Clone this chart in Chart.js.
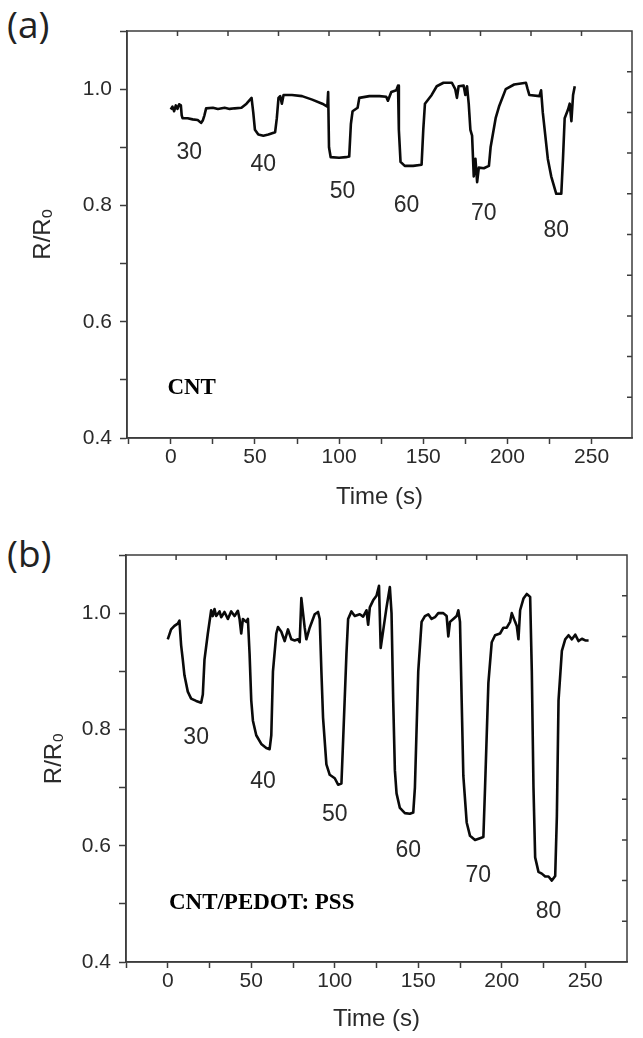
<!DOCTYPE html>
<html>
<head>
<meta charset="utf-8">
<title>R/R0 vs time</title>
<script src="https://cdn.jsdelivr.net/npm/chart.js@4.4.0/dist/chart.umd.min.js"></script>
<style>
  html, body { margin: 0; padding: 0; background: #fff; }
  #wrap { position: relative; width: 643px; height: 1038px; overflow: hidden; }
  canvas { position: absolute; left: 0; }
  .panel-tag { position: absolute; left: 7px; height: 46px; line-height: 46px;
               font: 37px "Open Sans", sans-serif; color: #222; }
</style>
</head>
<body>
<div id="wrap">
  <div class="panel-tag" style="top:-2px">(a)</div>
  <canvas id="chartA" width="643" height="520" style="top:0"></canvas>
  <div class="panel-tag" style="top:527px">(b)</div>
  <canvas id="chartB" width="643" height="518" style="top:520px"></canvas>
</div>
<script>
// ---- Panel (a): CNT ----
const timeA = [0, 1, 2, 3, 4, 5, 6, 6.5, 7, 10, 13, 16, 18, 19, 20, 21, 25, 28, 32, 35, 38, 42, 45, 48,
  49, 50, 52, 55, 58, 62, 63, 64, 65, 66, 67, 72, 78, 84, 90, 93, 93.5, 94, 95, 100, 104, 106, 107, 108,
  111, 112, 118, 124, 128, 129, 131, 134, 135, 135.5, 136.5, 139, 144, 149, 150, 151, 155, 158, 162, 167,
  169, 170, 171, 174, 175, 176, 177, 178, 179, 180, 181, 182, 183, 186, 189, 190, 193, 195, 199, 204, 211,
  212, 213, 219, 220, 221, 224, 226, 229, 232, 233, 234, 236, 237, 238, 239, 240];
const ratioA = [0.965, 0.970, 0.962, 0.972, 0.966, 0.974, 0.972, 0.955, 0.950, 0.950, 0.948, 0.947, 0.942,
  0.946, 0.955, 0.967, 0.968, 0.966, 0.968, 0.966, 0.967, 0.968, 0.975, 0.985, 0.960, 0.930, 0.922, 0.920,
  0.922, 0.926, 0.950, 0.985, 0.988, 0.975, 0.990, 0.990, 0.988, 0.982, 0.975, 0.970, 0.995, 0.900, 0.883,
  0.882, 0.883, 0.884, 0.940, 0.962, 0.968, 0.985, 0.988, 0.988, 0.987, 0.980, 0.995, 0.998, 1.006, 0.930,
  0.875, 0.868, 0.868, 0.870, 0.930, 0.975, 0.990, 1.005, 1.011, 1.011, 1.000, 0.985, 1.005, 1.006, 0.990,
  1.005, 0.975, 0.930, 0.920, 0.850, 0.880, 0.840, 0.865, 0.864, 0.868, 0.900, 0.950, 0.970, 1.000, 1.008,
  1.011, 1.000, 0.990, 0.988, 0.998, 0.960, 0.880, 0.850, 0.820, 0.820, 0.880, 0.950, 0.965, 0.975, 0.945,
  0.990, 1.005];
const noteTextA = ['30', '40', '50', '60', '70', '80'];
const noteTimeA = [11, 55, 102, 140, 186, 229];
const noteRatioA = [0.891, 0.870, 0.823, 0.799, 0.786, 0.757];

// ---- Panel (b): CNT/PEDOT: PSS ----
const timeB = [0, 2, 4, 6, 7, 8, 9, 10, 12, 14, 17, 20, 21, 22, 24, 26, 27, 28, 29, 31, 32, 34, 36, 38,
  40, 42, 43, 44, 45, 47, 48, 49, 50, 51, 53, 56, 59, 61, 62, 63, 65, 66, 68, 70, 72, 74, 76, 78, 79, 80,
  82, 83, 85, 88, 90, 91, 92, 93, 95, 97, 100, 102, 104, 105, 107, 108, 110, 112, 115, 117, 119, 120, 121,
  123, 125, 126.5, 127.5, 129, 131, 133, 134, 135, 136, 137, 139, 142, 145, 147, 148, 150, 152, 154, 156,
  158, 160, 162, 165, 167, 168, 169, 171, 173, 174, 175, 176, 177, 179, 181, 184, 187, 189, 190, 192, 194,
  196, 199, 201, 203, 205, 206, 208, 209, 210, 211, 213, 215, 217, 218, 219, 220, 222, 224, 226, 228, 230,
  232, 233, 234, 236, 238, 240, 242, 244, 246, 248, 250, 252];
const ratioB = [0.955, 0.972, 0.978, 0.982, 0.987, 0.945, 0.920, 0.893, 0.865, 0.853, 0.849, 0.846, 0.860,
  0.920, 0.965, 1.005, 0.995, 1.007, 0.995, 1.003, 0.993, 1.002, 0.990, 1.003, 0.995, 1.004, 0.990, 0.965,
  0.990, 0.985, 0.990, 0.930, 0.850, 0.815, 0.790, 0.775, 0.768, 0.766, 0.790, 0.900, 0.965, 0.976, 0.968,
  0.952, 0.972, 0.955, 0.953, 0.955, 0.950, 1.026, 0.975, 0.955, 0.975, 0.998, 1.002, 0.990, 0.900, 0.820,
  0.740, 0.722, 0.716, 0.705, 0.707, 0.780, 0.930, 0.990, 1.003, 0.995, 0.998, 0.994, 1.005, 0.980, 1.010,
  1.022, 1.030, 1.047, 0.940, 0.970, 1.010, 1.045, 1.000, 0.850, 0.730, 0.690, 0.665, 0.656, 0.655, 0.657,
  0.700, 0.900, 0.985, 0.995, 0.998, 0.990, 0.993, 1.000, 1.000, 0.995, 0.960, 0.985, 0.990, 0.995, 1.005,
  0.985, 0.850, 0.720, 0.640, 0.617, 0.610, 0.613, 0.615, 0.700, 0.880, 0.950, 0.962, 0.965, 0.975, 0.975,
  0.985, 1.000, 0.985, 0.978, 0.955, 1.005, 1.025, 1.033, 1.028, 0.900, 0.700, 0.580, 0.555, 0.552, 0.547,
  0.547, 0.540, 0.548, 0.650, 0.850, 0.935, 0.955, 0.962, 0.955, 0.963, 0.952, 0.956, 0.953, 0.953];
const noteTextB = ['30', '40', '50', '60', '70', '80'];
const noteTimeB = [17, 57, 100, 144, 186, 228];
const noteRatioB = [0.785, 0.711, 0.653, 0.592, 0.549, 0.486];

// ---- shared axis ticks ----
const xTickMarks = [-25, 0, 25, 50, 75, 100, 125, 150, 175, 200, 225, 250];
const xTickLabels = [0, 50, 100, 150, 200, 250];
const yTickLabels = [0.4, 0.6, 0.8, 1.0];

const AXIS_COLOR = '#3c3c3c';
const TEXT_COLOR = '#2a2a2a';
const SANS = '"Liberation Sans", Arial, sans-serif';

// box around the plot, small inward ticks on top/right edges, and the in-plot notes
const framePlugin = {
  id: 'frame',
  afterDraw(chart, args, opts) {
    const { ctx, chartArea: a, scales } = chart;
    ctx.save();
    ctx.strokeStyle = AXIS_COLOR;
    ctx.lineWidth = 1.5;
    ctx.strokeRect(a.left, a.top, a.right - a.left, a.bottom - a.top);
    ctx.beginPath();
    for (let k = 1; k < 10; k++) {
      const x = a.left + (a.right - a.left) * k / 10;
      const y = a.bottom - (a.bottom - a.top) * k / 10;
      ctx.moveTo(x, a.top); ctx.lineTo(x, a.top + 5);
      ctx.moveTo(a.right, y); ctx.lineTo(a.right - 5, y);
    }
    ctx.stroke();

    ctx.fillStyle = TEXT_COLOR;
    ctx.textAlign = 'center';
    ctx.textBaseline = 'middle';
    ctx.font = '23px ' + SANS;
    opts.texts.forEach((txt, i) => {
      ctx.fillText(txt, scales.x.getPixelForValue(opts.times[i]), scales.y.getPixelForValue(opts.ratios[i]));
    });
    ctx.fillStyle = '#000';
    ctx.textAlign = 'left';
    ctx.font = 'bold 23px "Liberation Serif", "Times New Roman", serif';
    ctx.fillText(opts.sample, scales.x.getPixelForValue(opts.sampleAt[0]), scales.y.getPixelForValue(opts.sampleAt[1]));
    ctx.restore();
  }
};

function makeChart(canvasId, times, ratios, cfg) {
  return new Chart(document.getElementById(canvasId), {
    type: 'line',
    data: {
      datasets: [{
        data: times.map((t, i) => ({ x: t, y: ratios[i] })),
        borderColor: '#0a0a0a',
        borderWidth: 2.6,
        borderJoinStyle: 'round',
        pointRadius: 0,
        tension: 0,
        fill: false
      }]
    },
    options: {
      responsive: false,
      animation: false,
      events: [],
      layout: { padding: { top: cfg.top, right: cfg.right, left: 0, bottom: 0 } },
      plugins: {
        legend: { display: false },
        tooltip: { enabled: false },
        frame: cfg.notes
      },
      scales: {
        x: {
          type: 'linear',
          min: cfg.xMin,
          max: cfg.xMax,
          afterFit: s => { s.height = cfg.xAxisHeight; },
          afterBuildTicks: s => {
            s.ticks = xTickMarks.filter(v => v >= cfg.xMin && v <= cfg.xMax).map(v => ({ value: v }));
          },
          ticks: {
            autoSkip: false,
            maxRotation: 0,
            padding: 1,
            color: TEXT_COLOR,
            font: { family: SANS, size: 21 },
            callback: v => xTickLabels.includes(v) ? String(v) : ''
          },
          grid: { drawOnChartArea: false, drawTicks: true, tickLength: 6, tickColor: AXIS_COLOR, tickWidth: 1.5 },
          border: { color: AXIS_COLOR, width: 1.5 },
          title: {
            display: true,
            text: 'Time (s)',
            color: TEXT_COLOR,
            font: { family: SANS, size: 24 },
            padding: { top: 0, bottom: cfg.xTitlePad }
          }
        },
        y: {
          min: 0.4,
          max: 1.1,
          afterFit: s => { s.width = cfg.yAxisWidth; },
          ticks: {
            stepSize: 0.1,
            autoSkip: false,
            padding: 8,
            color: TEXT_COLOR,
            font: { family: SANS, size: 21 },
            callback: v => yTickLabels.some(t => Math.abs(t - v) < 1e-6) ? v.toFixed(1) : ''
          },
          grid: { drawOnChartArea: false, drawTicks: true, tickLength: 7, tickColor: AXIS_COLOR, tickWidth: 1.5 },
          border: { color: AXIS_COLOR, width: 1.5 },
          title: {
            display: true,
            text: cfg.yTitle,
            color: TEXT_COLOR,
            font: { family: SANS, size: 24 },
            padding: { top: cfg.yTitlePad, bottom: 0 }
          }
        }
      }
    },
    plugins: [framePlugin]
  });
}

makeChart('chartA', timeA, ratioA, {
  top: 31, right: 11, xMin: -26, xMax: 274,
  xAxisHeight: 82, yAxisWidth: 127, xTitlePad: 8, yTitlePad: 29, yTitle: 'R/R\u2092',
  notes: { texts: noteTextA, times: noteTimeA, ratios: noteRatioA, sample: 'CNT', sampleAt: [-2, 0.486] }
});

makeChart('chartB', timeB, ratioB, {
  top: 35, right: 16, xMin: -25, xMax: 275,
  xAxisHeight: 76, yAxisWidth: 126, xTitlePad: 4, yTitlePad: 40, yTitle: 'R/R\u2080',
  notes: { texts: noteTextB, times: noteTimeB, ratios: noteRatioB, sample: 'CNT/PEDOT: PSS', sampleAt: [0.7, 0.502] }
});
</script>
</body>
</html>
